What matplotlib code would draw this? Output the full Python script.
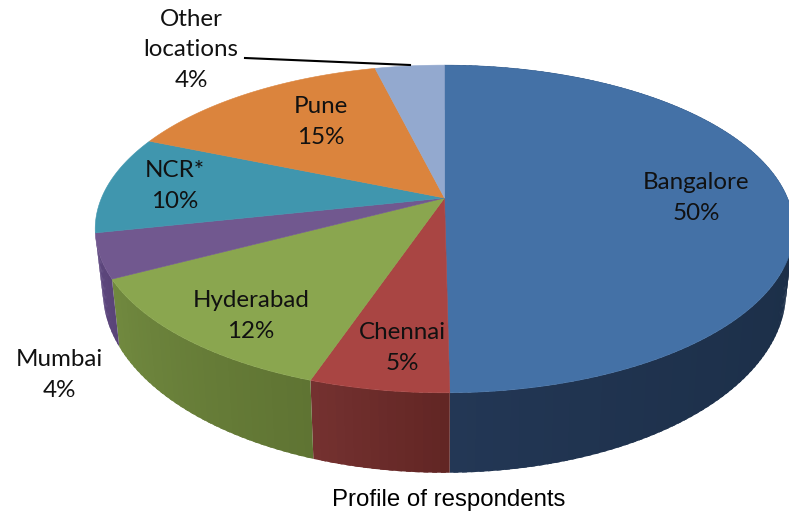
import matplotlib
matplotlib.use("Agg")
import matplotlib.pyplot as plt
import numpy as np

# clockwise from 12 o'clock (labels show them rounded)
NAMES = ["Bangalore", "Chennai", "Hyderabad", "Mumbai", "NCR*", "Pune", "Other\nlocations"]
SHARES = [49.8, 5.4, 12.05, 4.35, 9.7, 14.85, 3.85]
TITLE = "Profile of respondents"

TOP_COLORS = ["#4471a6", "#a94543", "#8aa64f", "#71588f", "#4096ae", "#db843d", "#93a9cf"]
# side wall colour at the start and end of the four slices that show a wall
WALL_START = ["#1b2e47", "#622624", "#5f7433", "#5a4478"]
WALL_END = ["#233755", "#743130", "#71893f", "#5d4781"]

# label centres in pixels
LABEL_POS = [(696, 198), (402, 348), (251, 316), (59, 375), (175, 186), (321, 122), (191, 50)]

# perspective model of the disc, in pixels
CX = 444.5
TOP_Y, TOP_K = 198, 158
LOW_Y, LOW_K = 257, 175
KX, LOW_SX = 343, 0.978
P = 0.189


def project(theta, low=False):
    x = np.sin(theta)
    y = np.cos(theta)
    den = 1 + P * y
    if low:
        return CX + LOW_SX * KX * x / den, LOW_Y - LOW_K * y / den
    return CX + KX * x / den, TOP_Y - TOP_K * y / den


fig = plt.figure(figsize=(7.89, 5.15), dpi=100)
ax = fig.add_axes([0, 0, 1, 1])
ax.set_xlim(0, 789)
ax.set_ylim(515, 0)
ax.axis("off")

edges = np.cumsum([0] + SHARES) / sum(SHARES) * 2 * np.pi

# side walls, each strip overlaps the next so no seams show
for i in range(len(WALL_START)):
    steps = max(int(SHARES[i] * 3), 6)
    ts = np.linspace(edges[i], edges[i + 1], steps + 1)
    c0 = np.array(matplotlib.colors.to_rgb(WALL_START[i]))
    c1 = np.array(matplotlib.colors.to_rgb(WALL_END[i]))
    order = np.arange(steps) if i == 0 else np.arange(steps)[::-1]
    for j in order:
        f = j / max(steps - 1, 1)
        col = c0 + (c1 - c0) * f ** 4 if i == 0 else c0 + (c1 - c0) * f
        t = np.array([ts[j], min(ts[j + 1] + 0.012, edges[i + 1])])
        if i != 0:
            t = np.array([max(ts[j] - 0.012, edges[i]), ts[j + 1]])
        xt, yt = project(t)
        xb, yb = project(t, low=True)
        ax.fill([xt[0], xt[1], xb[1], xb[0]], [yt[0], yt[1], yb[1], yb[0]],
                color=col, lw=0, zorder=2 + i * 0.01)

# top face
for i in range(len(SHARES)):
    t = np.linspace(edges[i], edges[i + 1], 120)
    xs, ys = project(t)
    ax.fill(np.r_[CX, xs], np.r_[TOP_Y, ys], color=TOP_COLORS[i], lw=0.4, zorder=3)

# labels
for name, share, pos in zip(NAMES, SHARES, LABEL_POS):
    ax.text(pos[0], pos[1], f"{name}\n{share:.0f}%", ha="center", va="center",
            fontsize=17.4, family="Lato", color="#111111", linespacing=1.55, zorder=5)

# leader for the last slice
ax.plot([245, 410], [58, 65], color="black", lw=1.5, zorder=4)

ax.text(449, 500, TITLE, ha="center", va="center", fontsize=17.3,
        family="Liberation Sans", color="black")

fig.savefig("out.png", dpi=100)
